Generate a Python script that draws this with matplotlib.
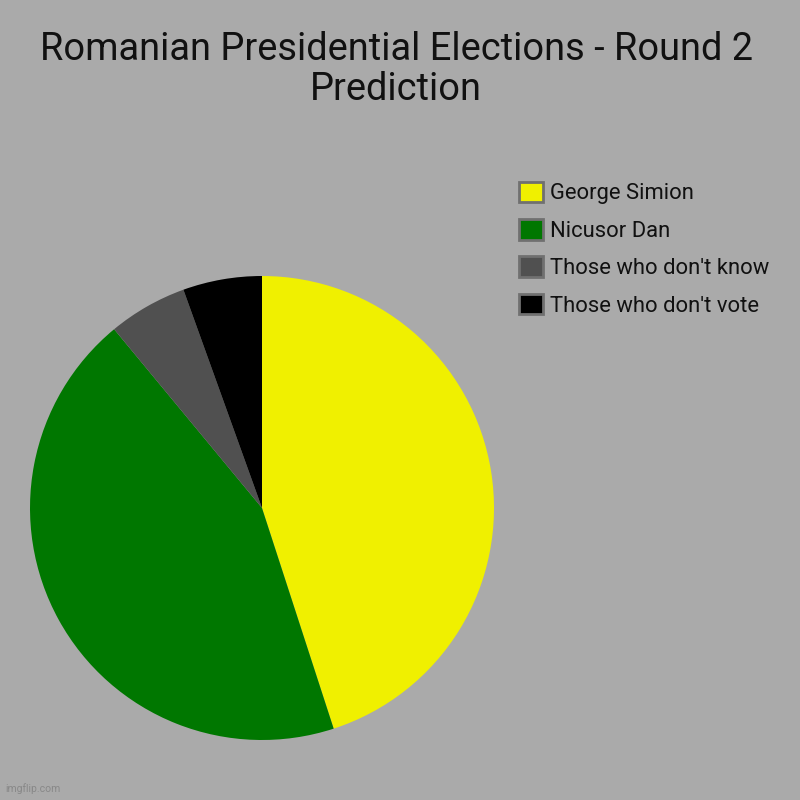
import matplotlib
matplotlib.use("Agg")
import matplotlib.pyplot as plt
from matplotlib.patches import Patch

plt.rcParams['font.family'] = ['Roboto', 'DejaVu Sans']

labels = ["George Simion", "Nicusor Dan", "Those who don't know", "Those who don't vote"]
values = [45, 44, 5.5, 5.5]
colors = ["#f0f000", "#007700", "#505050", "#000000"]
title_lines = ["Romanian Presidential Elections - Round 2", "Prediction"]
bg = "#aaaaaa"

fig = plt.figure(figsize=(8, 8), dpi=100, facecolor=bg)
ax = fig.add_axes([0.0375, 0.075, 0.58, 0.58])
ax.set_facecolor(bg)
ax.pie(values, colors=colors, startangle=90, counterclock=False, radius=1,
       wedgeprops=dict(linewidth=0))
ax.set_xlim(-1, 1)
ax.set_ylim(-1, 1)
ax.set_aspect('equal')
ax.axis('off')

for line, yb in zip(title_lines, [0.925, 0.875]):
    fig.text(0.495, yb, line, ha='center', va='baseline', fontsize=27.4, color='#111111')

handles = [Patch(facecolor=c, edgecolor='#707070', linewidth=2.0) for c in colors]
fig.legend(handles, labels, loc='upper left', bbox_to_anchor=(0.6485, 0.773),
           frameon=False, fontsize=15.8, handlelength=1.08, handleheight=1.08,
           handletextpad=0.36, labelspacing=0.66, borderaxespad=0, borderpad=0,
           labelcolor='#111111')

fig.text(0.006, 0.008, "imgflip.com", fontsize=7.5, color='#888888', ha='left', va='bottom')

fig.savefig("out.png", dpi=100, facecolor=bg)
